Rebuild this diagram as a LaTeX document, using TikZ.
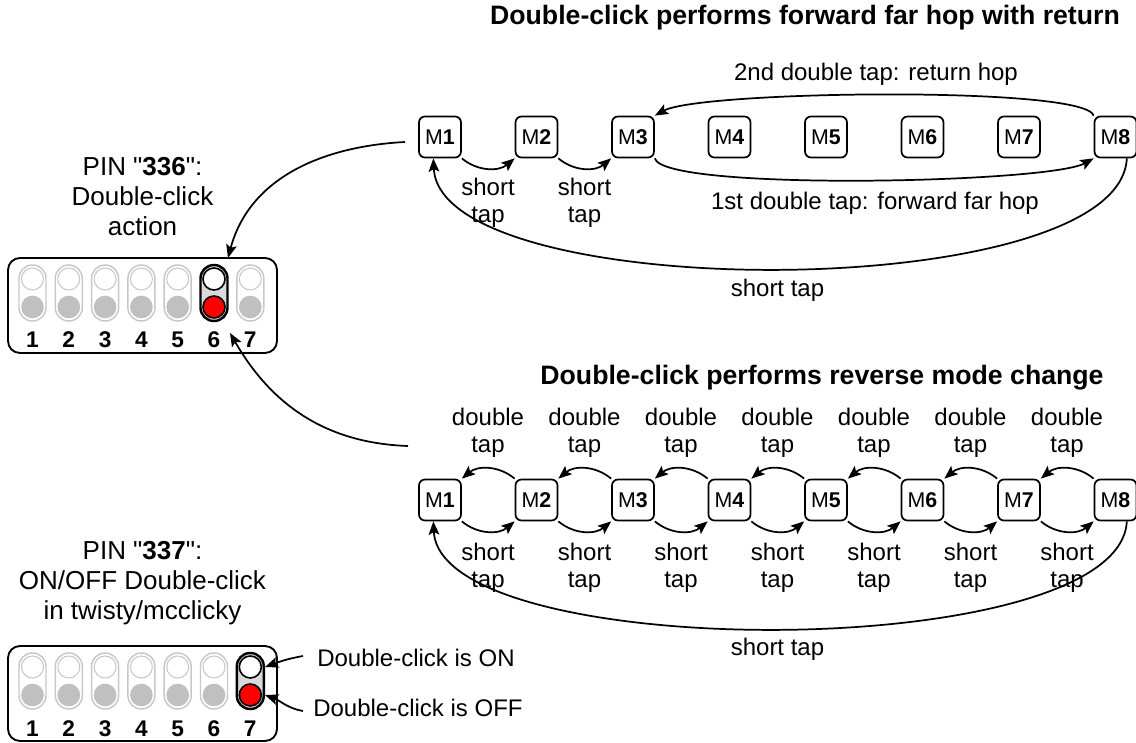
\documentclass[tikz,border=0pt]{standalone}
\usepackage{fontspec}
\setmainfont{Liberation Sans}[Ligatures=TeXOff]
\usetikzlibrary{arrows.meta,calc}
\definecolor{offline}{HTML}{C8C8C8}
\definecolor{offknob}{HTML}{C0C0C0}
\definecolor{onfill}{HTML}{D9D9D9}
\definecolor{onred}{HTML}{FF0000}
\begin{document}
\begin{tikzpicture}[x=0.75pt,y=0.75pt,
  txt/.style={align=center, inner sep=0pt, font=\fontsize{18}{20.5}\selectfont},
  pin/.style={align=center, inner sep=0pt, font=\fontsize{19.5}{22.5}\selectfont},
  ttl/.style={inner sep=0pt, font=\fontsize{20}{24}\selectfont\bfseries},
  mbox/.style={draw, line width=1.3pt, rounded corners=4.5pt, minimum width=31.5pt,
    minimum height=30.75pt, inner sep=0pt, font=\fontsize{16}{19}\selectfont},
  conn/.style={line width=1.3pt, -{Stealth[length=10pt,width=8pt,inset=2pt]}},
  swbox/.style={draw, line width=1.4pt, rounded corners=9pt, minimum width=201.75pt,
    minimum height=71.25pt, inner sep=0pt},
  pilloff/.style={draw=offline, line width=1.1pt, fill=white, rounded corners=10pt,
    minimum width=20.25pt, minimum height=42pt, inner sep=0pt},
  pillon/.style={draw=black, line width=1.8pt, fill=onfill, rounded corners=10pt,
    minimum width=20.25pt, minimum height=42pt, inner sep=0pt},
  ktopoff/.style={circle, draw=offline, line width=0.8pt, fill=white, minimum size=16.5pt, inner sep=0pt},
  kbotoff/.style={circle, fill=offknob, minimum size=17pt, inner sep=0pt},
  ktopon/.style={circle, draw=black, line width=1.2pt, fill=white, minimum size=16.5pt, inner sep=0pt},
  kboton/.style={circle, draw=black, line width=1.2pt, fill=onred, minimum size=16.5pt, inner sep=0pt},
  num/.style={inner sep=0pt, font=\fontsize{17}{20}\selectfont\bfseries}]
\useasboundingbox (0,0) rectangle (1136,743);

% titles
\node[ttl] (title1) at (805,725) {Double-click performs forward far hop with return};
\node[ttl] (title2) at (822,365) {Double-click performs reverse mode change};

% top row
\foreach \i in {1,...,8} \node[mbox] (t\i) at ({440+96.5*(\i-1)},606) {M\textbf{\i}};
% bottom row
\foreach \i in {1,...,8} \node[mbox] (b\i) at ({440+96.5*(\i-1)},243) {M\textbf{\i}};

% top connectors
\foreach \i [count=\j from 2] in {1,2} {
  \draw[conn] (t\i.south east) to[out=-40,in=-140] (t\j.south west);
  \node[txt] (ts\i) at ({488+96.5*(\i-1)},540) {short\\tap};
}
\draw[conn] (t3.south east) .. controls +(8,-33) and +(-45,-25) .. (t8.south west);
\node[txt] (fwd) at (875,540) {1st double tap: forward far hop};
\draw[conn] (t8.north west) .. controls +(-8,30) and +(45,25) .. (t3.north east);
\node[txt] (ret) at (876,669) {2nd double tap: return hop};
\draw[conn] ([xshift=8.5pt]t8.south) .. controls +(-7,-147) and +(7,-147) .. ([xshift=-5pt]t1.south);
\node[txt] (tst) at (777.5,453) {short tap};

% bottom connectors
\foreach \i [count=\j from 2] in {1,...,7} {
  \draw[conn] (b\i.south east) to[out=-40,in=-140] (b\j.south west);
  \draw[conn] (b\j.north west) to[out=140,in=40] (b\i.north east);
  \node[txt] (bs\i) at ({488+96.5*(\i-1)},175) {short\\tap};
  \node[txt] (bd\i) at ({488+96.5*(\i-1)},310) {double\\tap};
}
\draw[conn] ([xshift=8.5pt]b8.south) .. controls +(-7,-143) and +(7,-143) .. ([xshift=-5pt]b1.south);
\node[txt] (bst) at (777.5,94) {short tap};

% switch box A
\node[pin] (pinA) at (142.5,546) {PIN "\textbf{336}":\\Double-click\\action};
\node[swbox] (boxA) at (142.5,437.5) {};
\foreach \i/\x in {1/32.5,2/68.8,3/105.1,4/141.4,5/177.7,7/250.3} {
  \node[pilloff] (sA\i) at (\x,450) {};
  \node[ktopoff] (sA\i t) at (\x,464) {};
  \node[kbotoff] (sA\i b) at (\x,436) {};
}
\node[pillon] (sA6) at (214,450) {};
\node[ktopon] (sA6t) at (214,464) {};
\node[kboton] (sA6b) at (214,436) {};
\foreach \i/\x in {1/32.5,2/68.8,3/105.1,4/141.4,5/177.7,6/214,7/250.3}
  \node[num] (nA\i) at (\x,403) {\i};

% switch box B
\node[pin] (pinB) at (142.5,160) {PIN "\textbf{337}":\\ON/OFF Double-click\\in twisty/mcclicky};
\node[swbox] (boxB) at (142.5,49.5) {};
\foreach \i/\x in {1/32.5,2/68.8,3/105.1,4/141.4,5/177.7,6/214} {
  \node[pilloff] (sB\i) at (\x,62) {};
  \node[ktopoff] (sB\i t) at (\x,76) {};
  \node[kbotoff] (sB\i b) at (\x,48) {};
}
\node[pillon] (sB7) at (250.3,62) {};
\node[ktopon] (sB7t) at (250.3,76) {};
\node[kboton] (sB7b) at (250.3,48) {};
\foreach \i/\x in {1/32.5,2/68.8,3/105.1,4/141.4,5/177.7,6/214,7/250.3}
  \node[num] (nB\i) at (\x,14) {\i};

\node[txt, anchor=west] (onlbl) at (317,85) {Double-click is ON};
\node[txt, anchor=west] (offlbl) at (313,35) {Double-click is OFF};
\coordinate (onS) at (303,87);
\coordinate (offS) at (303,32);
\draw[conn] (onS) to[out=190,in=20] (sB7.east |- sB7t);
\draw[conn] (offS) to[out=170,in=-20] (sB7.east |- sB7b);

% links to the switch box
\coordinate (gA) at (405,601);
\coordinate (gB) at (408,297);
\coordinate (inA) at (228,485);
\coordinate (inB) at (230,410);
\draw[conn] (gA) to[out=183,in=75] (inA);
\draw[conn] (gB) to[out=178,in=-60] (inB);
\end{tikzpicture}
\end{document}
